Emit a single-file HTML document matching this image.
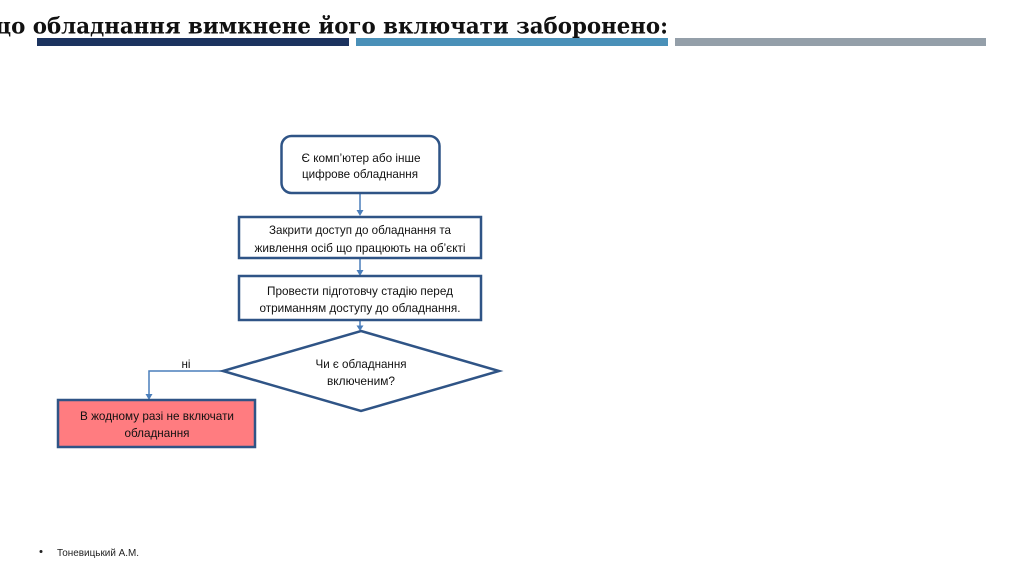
<!DOCTYPE html>
<html lang="uk">
<head>
<meta charset="utf-8">
<title>Diagram</title>
<style>
html,body{margin:0;padding:0;background:#fff;width:1024px;height:576px;overflow:hidden}
svg{display:block}
.t{font-family:"Liberation Sans","DejaVu Sans",sans-serif;font-size:12px;fill:#111;text-anchor:middle}
.h{font-family:"DejaVu Serif","Liberation Serif",serif;font-weight:bold;font-size:22px;fill:#111}
</style>
</head>
<body>
<svg width="1024" height="576" viewBox="0 0 1024 576" xmlns="http://www.w3.org/2000/svg">
<text class="h" x="-12" y="33.500" textLength="680" lengthAdjust="spacingAndGlyphs">що обладнання вимкнене його включати заборонено:</text>
<rect x="37" y="38" width="312" height="8" fill="#1c335f"/>
<rect x="356" y="38" width="312" height="8" fill="#4a90b8"/>
<rect x="675" y="38" width="311" height="8" fill="#949fa9"/>

<g stroke="#4a7ebb" stroke-width="1.500" fill="none">
<path d="M360 193V212"/>
<path d="M360 258V272"/>
<path d="M360 320V327"/>
<path d="M222 371H149V396"/>
</g>
<g fill="#4a7ebb">
<path d="M356.500 210H363.500L360 216Z"/>
<path d="M356.500 270H363.500L360 276Z"/>
<path d="M356.500 325.500H363.500L360 331Z"/>
<path d="M145.500 394H152.500L149 400Z"/>
</g>

<g stroke="#2f5486" stroke-width="2.500" fill="#fff">
<rect x="281.500" y="136" width="158" height="57" rx="10" ry="10"/>
<rect x="239" y="217" width="242" height="41"/>
<rect x="239" y="276" width="242" height="44"/>
<polygon points="361,331 499,371 361,411 223,371"/>
<rect x="58" y="400" width="197" height="47" fill="#ff7c80"/>
</g>

<text class="t" x="361" y="162" textLength="119" lengthAdjust="spacingAndGlyphs">Є комп’ютер або інше</text>
<text class="t" x="360" y="178" textLength="116" lengthAdjust="spacingAndGlyphs">цифрове обладнання</text>
<text class="t" x="360" y="234" textLength="182" lengthAdjust="spacingAndGlyphs">Закрити доступ до обладнання та</text>
<text class="t" x="360" y="252" textLength="211" lengthAdjust="spacingAndGlyphs">живлення осіб що працюють на об’єкті</text>
<text class="t" x="360" y="295" textLength="186" lengthAdjust="spacingAndGlyphs">Провести підготовчу стадію перед</text>
<text class="t" x="360" y="312" textLength="201" lengthAdjust="spacingAndGlyphs">отриманням доступу до обладнання.</text>
<text class="t" x="361" y="368" textLength="91" lengthAdjust="spacingAndGlyphs">Чи є обладнання</text>
<text class="t" x="361" y="385" textLength="68" lengthAdjust="spacingAndGlyphs">включеним?</text>
<text class="t" x="186" y="368" textLength="9" lengthAdjust="spacingAndGlyphs">ні</text>
<text class="t" x="157" y="420" textLength="154" lengthAdjust="spacingAndGlyphs">В жодному разі не включати</text>
<text class="t" x="157" y="437" textLength="65" lengthAdjust="spacingAndGlyphs">обладнання</text>

<circle cx="41" cy="551.500" r="1.500" fill="#222"/>
<text x="57" y="556" font-family="'Liberation Sans',sans-serif" font-size="10.500px" fill="#222" textLength="82" lengthAdjust="spacingAndGlyphs">Тоневицький А.М.</text>
</svg>
</body>
</html>
